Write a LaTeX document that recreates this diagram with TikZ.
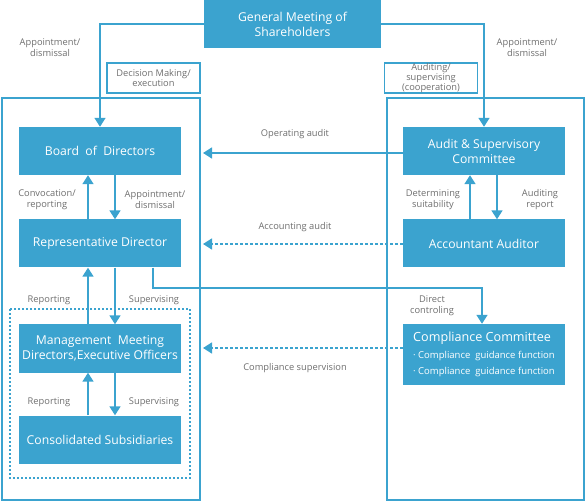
\documentclass[tikz,border=0pt]{standalone}
\usepackage{fontspec}
\setmainfont{Open Sans}
\usetikzlibrary{arrows.meta}
\definecolor{boxblue}{HTML}{3BA3CF}
\definecolor{labelgray}{HTML}{6E6E6E}

\tikzset{
  unit/.style={fill=boxblue,text=white,minimum width=162pt,minimum height=48pt,
    inner sep=0pt,align=center,font=\fontsize{12.2}{15}\selectfont},
  tag/.style={draw=boxblue,line width=1.6pt,text=labelgray,minimum width=93pt,
    minimum height=30pt,inner sep=0pt,align=center,font=\fontsize{9.3}{8.8}\selectfont},
  lbl/.style={text=labelgray,align=center,font=\fontsize{9.3}{11}\selectfont},
  frame/.style={draw=boxblue,line width=1.6pt},
  link/.style={draw=boxblue,line width=1.6pt,-{Triangle[width=11pt,length=9pt]}},
  dlink/.style={link,dash pattern=on 3pt off 2pt},
}

\begin{document}
\begin{tikzpicture}[x=1pt,y=-1pt]
\useasboundingbox (0,0) rectangle (586,502);

% frames
\draw[frame] (2,98) rectangle (200,500);
\draw[frame] (387,98) rectangle (584,500);
\draw[frame,line width=1.4pt,dash pattern=on 2pt off 2pt] (10,309) rectangle (190,478);

% boxes
\node (gm) at (292.5,24) [unit,minimum width=177pt] {General Meeting of\\Shareholders};
\node (board) at (100,151) [unit] {Board\ \ of\ \ Directors};
\node (rep) at (100,243.5) [unit] {Representative Director};
\node (mm) at (100,348.5) [unit] {Management\ \ Meeting\\Directors,Executive Officers};
\node (cs) at (100,439.5) [unit] {Consolidated Subsidiaries};
\node (asc) at (484,151) [unit] {Audit \& Supervisory\\Committee};
\node (aa) at (484,243.5) [unit] {Accountant Auditor};
\node (cc) at (484,354.5) [unit,minimum height=61pt,align=left,
  font=\fontsize{9.5}{16.5}\selectfont]
  {{\fontsize{12.6}{14}\selectfont Compliance Committee}\\
   \textperiodcentered\ Compliance\ \ guidance function\\
   \textperiodcentered\ Compliance\ \ guidance function};

\node (dec) at (153.5,78) [tag] {Decision Making/\\execution};
\node (sup) at (431,78) [tag] {Auditing/\\supervising\\(cooperation)};

% shareholders
\draw[link] (gm.west) -| (board.north);
\draw[link] (gm.east) -| (asc.north);
\node (l1) at (50,48) [lbl] {Appointment/\\dismissal};
\node (l2) at (527,48) [lbl] {Appointment/\\dismissal};

% left column
\draw[link] (rep.north -| 88,0) -- (board.south -| 88,0);
\draw[link] (board.south -| 115,0) -- (rep.north -| 115,0);
\node (l3) at (47,200) [lbl] {Convocation/\\reporting};
\node (l4) at (155,200) [lbl] {Appointment/\\dismissal};
\draw[link] (mm.north -| 88,0) -- (rep.south -| 88,0);
\draw[link] (rep.south -| 115,0) -- (mm.north -| 115,0);
\node (l5) at (49,300) [lbl] {Reporting};
\node (l6) at (154,300) [lbl] {Supervising};
\draw[link] (cs.north -| 88,0) -- (mm.south -| 88,0);
\draw[link] (mm.south -| 115,0) -- (cs.north -| 115,0);
\node (l7) at (49,402) [lbl] {Reporting};
\node (l8) at (154,402) [lbl] {Supervising};

% right column
\draw[link] (aa.north -| 470,0) -- (asc.south -| 470,0);
\draw[link] (asc.south -| 497,0) -- (aa.north -| 497,0);
\node (l9) at (433,200) [lbl] {Determining\\suitability};
\node (l10) at (540,200) [lbl] {Auditing\\report};

% audits
\coordinate (t1) at (203,153);
\coordinate (t2) at (203,244);
\coordinate (t3) at (203,348);
\draw[link] (asc.west |- t1) -- (t1);
\draw[dlink] (aa.west |- t2) -- (t2);
\draw[dlink] (cc.west |- t3) -- (t3);
\node (l11) at (295,134) [lbl] {Operating audit};
\node (l12) at (295,227) [lbl] {Accounting audit};
\node (l13) at (295,368) [lbl] {Compliance supervision};

% direct control
\coordinate (d1) at (153,288);
\draw[link] (rep.south -| d1) -- (d1) -| (cc.north -| 482,0);
\node (l14) at (432,306) [lbl] {Direct\\controling};
\end{tikzpicture}
\end{document}
